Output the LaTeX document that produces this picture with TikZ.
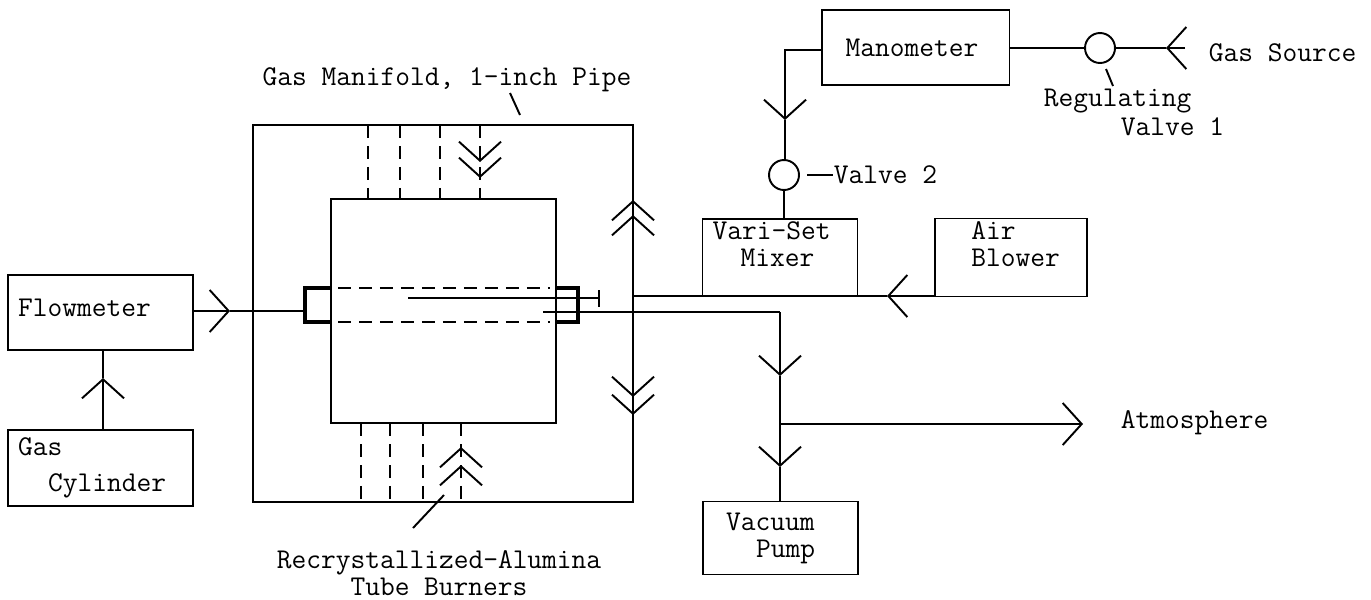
\documentclass[tikz,border=0pt]{standalone}
\usepackage{xcolor}
\usetikzlibrary{arrows.meta, positioning}

\begin{document}
\begin{tikzpicture}[
    x=0.02cm, y=-0.02cm,
    line width=1.1pt,
    typed/.style={font=\ttfamily\fontsize{16.3}{15.4}\selectfont},
    unit/.style={rectangle, draw, typed, align=left, text width=2.7cm,
      inner xsep=0.2cm, inner ysep=0pt},
    label/.style={typed, inner sep=0pt, align=center},
    valve/.style={circle, draw, inner sep=0pt, minimum size=0.6cm},
    burner/.style={rectangle, draw, inner sep=0pt},
    flow/.style={-{Straight Barb[length=0.38cm, width=0.84cm]}},
    tube/.style={dashed, dash pattern=on 0.26cm off 0.16cm},
    tubewall/.style={line width=2.2pt},
]
\useasboundingbox (0,0) rectangle (1371,599);

% ── Plant units ──
\node[unit, text width=3.3cm, minimum height=1.5cm] (flowmeter) at (100.5,312.5)
  {Flowmeter\\[-10pt]~};
\node[unit, text width=3.3cm, minimum height=1.52cm, below=1.56cm of flowmeter] (cylinder)
  {Gas\\[5pt]\hspace*{0.6cm}Cylinder};
\node[unit, text width=3.36cm, minimum height=1.5cm] (manometer) at (915.5,47.5)
  {\hspace*{0.28cm}Manometer};
\node[unit, minimum height=1.54cm] (mixer) at (780,257.5)
  {Vari-Set\\\hspace*{0.56cm}Mixer\\~};
\node[unit, text width=2.64cm, minimum height=1.56cm, right=1.52cm of mixer] (blower)
  {\hspace*{0.52cm}Air\\\hspace*{0.52cm}Blower\\~};
\node[unit, minimum height=1.46cm] (pump) at (780.5,538)
  {\hspace*{0.26cm}Vacuum\\\hspace*{0.86cm}Pump};

% ── Manifold and furnace ──
\node[burner, minimum width=7.6cm, minimum height=7.54cm] (manifold) at (443,313.5) {};
\node[burner, minimum width=4.5cm, minimum height=4.48cm] (furnace) at (443.5,311) {};

% ── Valves ──
\node[valve] (valveone) at (1100,48) {};
\node[valve] (valvetwo) at (784,175) {};

% ── Labels ──
\node[label] (manifoldtext) at (447,80) {Gas Manifold, 1-inch Pipe};
\node[label] (burnertext) at (439,573) {Recrystallized-Alumina\\Tube Burners};
\node[label, anchor=west] (sourcetext) at (1208,53) {Gas Source};
\node[label, anchor=west] (reguone) at (1043,101) {Regulating};
\node[label, anchor=west] (regutwo) at (1120,127) {Valve 1};
\node[label, anchor=west] (valvetwotext) at (833,175) {Valve 2};
\node[label, anchor=west] (atmotext) at (1120,423) {Atmosphere};

% ── Junction points ──
\coordinate (tubeleft) at (305,311);
\coordinate (tubeopen) at (408,298);
\coordinate (tubecap) at (599,298);
\coordinate (gasstart) at (543,312);
\coordinate (gascorner) at (780,312);
\coordinate (branch) at (780,424);
\coordinate (atmotip) at (1083,424);
\coordinate (airstart) at (632,296);
\coordinate (sourceend) at (1185,48);
\coordinate (valvecorner) at (785,50);
\coordinate (valvetwolead) at (807,175);

\coordinate (tipflow) at (230,311);
\coordinate (tipcyl) at (103,378);
\coordinate (tipgas) at (1166,48);
\coordinate (tipvalve) at (785,120);
\coordinate (tipair) at (887,296);
\coordinate (tipvacone) at (780,376);
\coordinate (tipvactwo) at (780,467);

% ── Connectors ──
\draw[flow] (flowmeter.east |- tubeleft) -- (tipflow);
\draw (tipflow) -- (tubeleft);
\draw[flow] (cylinder.north -| tipcyl) -- (tipcyl);
\draw (tipcyl) -- (flowmeter.south -| tipcyl);
\draw (manometer.east |- valveone) -- (valveone);
\draw[flow] (sourceend) -- (tipgas);
\draw (tipgas) -- (valveone);
\draw[flow] (manometer.west |- valvecorner) -- (valvecorner) -- (tipvalve);
\draw (tipvalve) -- (valvetwo.north -| tipvalve);
\draw (valvetwo) -- (mixer.north -| valvetwo);
\draw (valvetwolead) -- (valvetwotext);
\draw (airstart) -- (mixer.south west |- airstart);
\draw[flow] (blower.south west |- tipair) -- (tipair);
\draw (tipair) -- (mixer.south east |- tipair);
\draw (gasstart) -- (gascorner);
\draw[flow] (gascorner) -- (tipvacone);
\draw (tipvacone) -- (branch);
\draw[flow] (branch) -- (tipvactwo);
\draw (tipvactwo) -- (pump.north -| tipvactwo);
\draw[flow] (branch) -- (atmotip);

% ── Sample tube ──
\draw[tubewall] (furnace.west |- 0,288) -| (tubeleft |- 0,322) -- (furnace.west |- 0,322);
\draw[tubewall] (furnace.east |- 0,288) -| (578,322) -- (furnace.east |- 0,322);
\draw[tube] (338,288) -- (550,288);
\draw[tube] (338,322) -- (550,322);
\draw[line width=1.4pt] (tubeopen) -- (tubecap);
\draw (599,290) -- (599,307);

% ── Tube burners ──
\foreach \px in {368,400,440,480}
  \draw[tube] (\px,125) -- (\px,199);
\foreach \px in {361,390,423,461}
  \draw[tube] (\px,423) -- (\px,502);

% ── Double chevrons ──
\draw[flow] (480,156) -- (480,162);
\draw[flow] (480,172) -- (480,178);
\draw[flow] (461,453) -- (461,447);
\draw[flow] (461,471) -- (461,465);
\draw[flow] (633,208) -- (633,200);
\draw[flow] (633,223) -- (633,215);
\draw[flow] (633,389) -- (633,397);
\draw[flow] (633,407) -- (633,415);

% ── Leaders ──
\draw (510,93) -- (520,115);
\draw (444,495) -- (413,528);
\draw (1106,69) -- (1113,86);

\end{tikzpicture}
\end{document}
